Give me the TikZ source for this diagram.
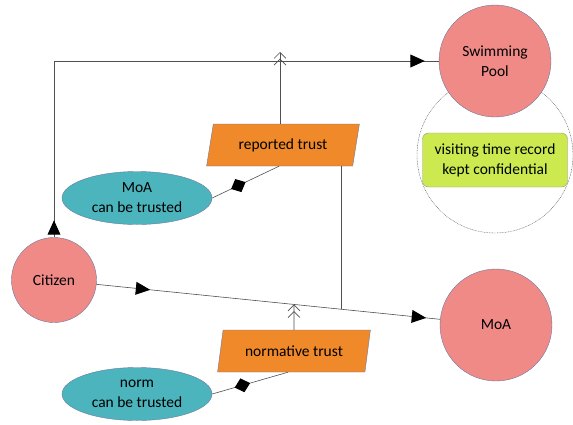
\documentclass[tikz,border=0pt]{standalone}
\usepackage{fontspec}
\setmainfont{Carlito}
\usepackage[dvipsnames]{xcolor}
\usetikzlibrary{shapes.geometric,arrows.meta,decorations.markings}

\definecolor{agentpink}{RGB}{240,138,135}
\definecolor{trustorange}{RGB}{239,137,42}
\definecolor{condteal}{RGB}{75,180,188}
\definecolor{notegreen}{RGB}{204,234,80}
\definecolor{edgeblue}{RGB}{110,120,160}
\definecolor{linegray}{RGB}{80,80,80}

\begin{document}
\begin{tikzpicture}[x=1pt,y=-1pt,thin,font=\fontsize{15.5}{20}\selectfont,
    agent/.style={circle,draw=edgeblue,fill=agentpink,minimum size=#1,inner sep=0pt,align=center},
    trust/.style={trapezium,trapezium left angle=77,trapezium right angle=103,trapezium stretches=true,draw=edgeblue,fill=trustorange,minimum width=153pt,minimum height=42pt},
    cond/.style={ellipse,draw=edgeblue,fill=condteal,minimum width=150pt,minimum height=53pt,align=center},
    conn/.style={draw=linegray,line width=0.6pt},
    flow/.style={conn,postaction={decorate},decoration={markings,
        mark=at position #1 with {\arrow[scale=1.6]{Triangle[length=9pt,width=8pt,color=black]}},
        mark=at position -14pt with {\arrow[scale=1.6]{Triangle[length=9pt,width=8pt,color=black]}}}},
    link/.style={conn,postaction={decorate},decoration={markings,
        mark=at position 0.5 with {\arrow[scale=1.6]{Diamond[length=10pt,width=9pt,color=black]}}}},
    count/.style={conn,-{Straight Barb[length=6pt,width=12pt]Straight Barb[length=6pt,width=12pt]}}]

    \useasboundingbox (0,0) rectangle (573,424);

    % agents and the scope of the pool
    \node[circle,draw=linegray,dash pattern=on 0.8pt off 0.8pt,minimum size=156pt] (scope) at (495,155) {};
    \node[agent=112pt] (pool) at (495,61) {Swimming\\Pool};
    \node[agent=85pt] (cit) at (54,280) {Citizen};
    \node[agent=112pt] (moa) at (496,325) {MoA};
    \node[rectangle,rounded corners=6pt,draw=edgeblue!70!notegreen,fill=notegreen,minimum width=145pt,minimum height=54pt,align=center] (note) at (495,160) {visiting time record\\kept confidential};

    % trust and its conditions
    \node[trust] (rep) at (283,145) {reported trust};
    \node[trust] (norm) at (294,351) {normative trust};
    \node[cond] (moac) at (137,198) {MoA\\can be trusted};
    \node[cond] (normc) at (137,394) {norm\\can be trusted};

    \coordinate (j1) at ([xshift=-3pt]rep.north |- pool.west);
    \coordinate (j2) at (intersection of cit--moa and {[xshift=58pt]rep.south}--{[xshift=58pt,yshift=-200pt]rep.south});
    \coordinate (j3) at (intersection of cit--moa and norm.north--norm.south);

    \draw[flow=17pt] (cit.north) |- (pool.west);
    \draw[flow=54pt] (cit) -- (moa);

    \draw[conn] ([xshift=-3pt]rep.north) -- (j1);
    \draw[count] ([xshift=-3pt]rep.north) -- ([yshift=9pt]j1);
    \draw[conn] ([xshift=58pt]rep.south) -- (j2);
    \draw[count] (norm.north) -- (j3);

    \draw[link] (moac.east) -- ([xshift=-4pt]rep.south);
    \draw[link] (normc.east) -- ([xshift=-6pt]norm.south);

\end{tikzpicture}
\end{document}
